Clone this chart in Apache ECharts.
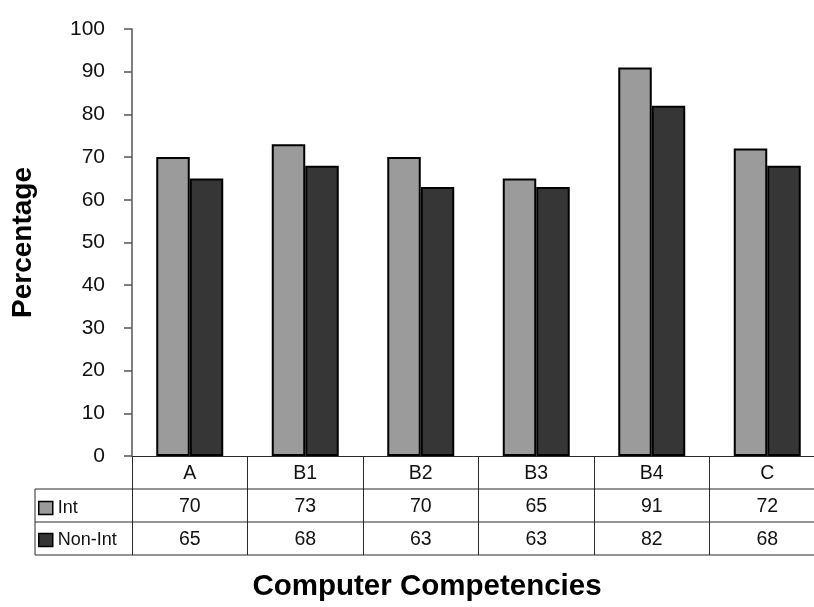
<!DOCTYPE html>
<html>
<head>
<meta charset="utf-8">
<script src="https://cdn.jsdelivr.net/npm/echarts@6/dist/echarts.min.js"></script>
<style>
  html, body { margin: 0; padding: 0; background: #ffffff; }
  #chart { width: 814px; height: 607px; }
</style>
</head>
<body>
<div id="chart"></div>
<script>
// Competency categories and the two groups' percentages
const categories = ['A', 'B1', 'B2', 'B3', 'B4', 'C'];
const intValues = [70, 73, 70, 65, 91, 72];
const nonIntValues = [65, 68, 63, 63, 82, 68];
const yTicks = [0, 10, 20, 30, 40, 50, 60, 70, 80, 90, 100];

// Plot frame
const GRID_LEFT = 132;
const GRID_TOP = 29;
const GRID_HEIGHT = 427;
const GRID_WIDTH = 693;
const ROW_H = 33;
const TABLE_LEFT = 35;
const FONT = 'Liberation Sans, Arial, Helvetica, sans-serif';
const LINE_COLOR = '#2a2a2a';

const chart = echarts.init(document.getElementById('chart'), null, { renderer: 'canvas' });

const axisBottom = GRID_TOP + GRID_HEIGHT;
const tableRight = GRID_LEFT + GRID_WIDTH;

// Horizontal and left-edge rules of the data table
const tableLines = [];
for (let r = 1; r <= 3; r++) {
  const y = axisBottom + r * ROW_H;
  tableLines.push({
    type: 'line',
    shape: { x1: TABLE_LEFT, y1: y, x2: tableRight, y2: y },
    style: { stroke: LINE_COLOR, lineWidth: 1 },
    silent: true
  });
}
tableLines.push({
  type: 'line',
  shape: { x1: TABLE_LEFT, y1: axisBottom + ROW_H, x2: TABLE_LEFT, y2: axisBottom + 3 * ROW_H },
  style: { stroke: LINE_COLOR, lineWidth: 1 },
  silent: true
});

function rowAxis(offset, values) {
  return {
    type: 'category',
    data: categories,
    position: 'bottom',
    offset: offset,
    axisLine: { show: false },
    axisTick: { show: false },
    axisLabel: {
      margin: 8,
      fontSize: 19.5,
      color: '#111',
      fontFamily: FONT,
      formatter: (v, i) => String(values[i])
    }
  };
}

const option = {
  backgroundColor: '#ffffff',
  animation: false,
  grid: {
    left: GRID_LEFT,
    top: GRID_TOP,
    width: GRID_WIDTH,
    height: GRID_HEIGHT,
    containLabel: false,
    outerBoundsMode: 'none'
  },
  title: {
    text: 'Computer Competencies',
    left: 422,
    top: 567,
    textAlign: 'center',
    textStyle: { fontSize: 29.5, fontWeight: 'bold', color: '#000', fontFamily: FONT }
  },
  legend: {
    orient: 'vertical',
    left: 38,
    top: 499,
    padding: 0,
    itemWidth: 14,
    itemHeight: 13,
    itemGap: 14,
    icon: 'rect',
    textStyle: { fontSize: 18, color: '#111', fontFamily: FONT },
    itemStyle: { borderColor: '#000', borderWidth: 1.5 },
    data: ['Int', 'Non-Int']
  },
  xAxis: [
    {
      type: 'category',
      data: categories,
      position: 'bottom',
      axisLine: { show: true, lineStyle: { color: LINE_COLOR, width: 1 } },
      axisTick: { show: true, length: 3 * ROW_H, lineStyle: { color: LINE_COLOR, width: 1 } },
      axisLabel: { margin: 8, fontSize: 19.5, color: '#111', fontFamily: FONT }
    },
    rowAxis(ROW_H, intValues),
    rowAxis(2 * ROW_H, nonIntValues)
  ],
  yAxis: {
    type: 'value',
    min: 0,
    max: 100,
    interval: 10,
    name: 'Percentage',
    nameLocation: 'middle',
    nameGap: 95,
    nameTextStyle: { fontSize: 28, fontWeight: 'bold', color: '#000', fontFamily: FONT },
    axisLine: { show: true, lineStyle: { color: '#555', width: 1.5 } },
    axisTick: { show: true, length: 8, lineStyle: { color: '#555', width: 1.5 } },
    splitLine: { show: false },
    axisLabel: {
      margin: 27,
      fontSize: 21,
      color: '#111',
      fontFamily: FONT,
      formatter: v => (yTicks.indexOf(v) >= 0 ? String(v) : '')
    }
  },
  series: [
    {
      name: 'Int',
      type: 'bar',
      data: intValues,
      barGap: '0%',
      barCategoryGap: '42%',
      itemStyle: { color: '#9b9b9b', borderColor: '#000', borderWidth: 2 }
    },
    {
      name: 'Non-Int',
      type: 'bar',
      data: nonIntValues,
      barGap: '0%',
      barCategoryGap: '42%',
      itemStyle: { color: '#363636', borderColor: '#000', borderWidth: 2 }
    }
  ],
  graphic: tableLines
};

chart.setOption(option);
</script>
</body>
</html>
